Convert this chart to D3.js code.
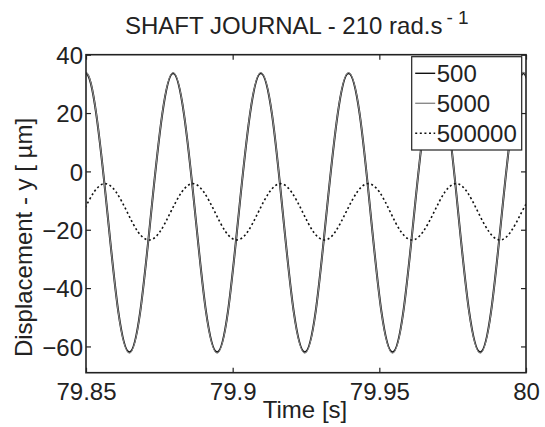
<!DOCTYPE html>
<html>
<head>
<meta charset="utf-8">
<script src="https://cdn.jsdelivr.net/npm/d3@7"></script>
<style>
  body { margin: 0; background: #fff; }
  text { font-family: "Liberation Sans", Arial, sans-serif; fill: #222; }
</style>
</head>
<body>
<script>
// sample times (s), every 1/8 of a period
const timeSolid = [79.8461, 79.8498, 79.8535, 79.8573, 79.8610, 79.8648, 79.8685, 79.8722, 79.8760,
  79.8797, 79.8834, 79.8872, 79.8909, 79.8947, 79.8984, 79.9021, 79.9059,
  79.9096, 79.9134, 79.9171, 79.9208, 79.9246, 79.9283, 79.9320, 79.9358,
  79.9395, 79.9433, 79.9470, 79.9507, 79.9545, 79.9582, 79.9619, 79.9657,
  79.9694, 79.9732, 79.9769, 79.9806, 79.9844, 79.9881, 79.9918, 79.9956,
  79.9993, 80.0030];
const y500 = [19.6, 33.6, 19.6, -14.2, -48.0, -62.0, -48.0, -14.2, 19.6,
  33.6, 19.6, -14.2, -48.0, -62.0, -48.0, -14.2, 19.6,
  33.6, 19.6, -14.2, -48.0, -62.0, -48.0, -14.2, 19.6,
  33.6, 19.6, -14.2, -48.0, -62.0, -48.0, -14.2, 19.6,
  33.6, 19.6, -14.2, -48.0, -62.0, -48.0, -14.2, 19.6,
  33.6, 19.6];
const y5000 = [19.8, 33.9, 19.8, -14.2, -48.2, -62.3, -48.2, -14.2, 19.8,
  33.9, 19.8, -14.2, -48.2, -62.3, -48.2, -14.2, 19.8,
  33.9, 19.8, -14.2, -48.2, -62.3, -48.2, -14.2, 19.8,
  33.9, 19.8, -14.2, -48.2, -62.3, -48.2, -14.2, 19.8,
  33.9, 19.8, -14.2, -48.2, -62.3, -48.2, -14.2, 19.8,
  33.9, 19.8];

const timeDotted = [79.8453, 79.8490, 79.8528, 79.8565, 79.8602, 79.8640, 79.8677, 79.8715,
  79.8752, 79.8789, 79.8827, 79.8864, 79.8901, 79.8939, 79.8976, 79.9014,
  79.9051, 79.9088, 79.9126, 79.9163, 79.9200, 79.9238, 79.9275, 79.9313,
  79.9350, 79.9387, 79.9425, 79.9462, 79.9500, 79.9537, 79.9574, 79.9612,
  79.9649, 79.9687, 79.9724, 79.9762, 79.9799, 79.9836, 79.9874, 79.9911,
  79.9948, 79.9986, 80.0023];
const y500000 = [-20.7, -13.85, -7.0, -4.2, -7.0, -13.85, -20.7, -23.5,
  -20.7, -13.85, -7.0, -4.2, -7.0, -13.85, -20.7, -23.5,
  -20.7, -13.85, -7.0, -4.2, -7.0, -13.85, -20.7, -23.5,
  -20.7, -13.85, -7.0, -4.2, -7.0, -13.85, -20.7, -23.5,
  -20.7, -13.85, -7.0, -4.2, -7.0, -13.85, -20.7, -23.5,
  -20.7, -13.85, -7.0];

const xTicks = [79.85, 79.9, 79.95, 80];
const yTicks = [-60, -40, -20, 0, 20, 40];
const legendLabels = ["500", "5000", "500000"];

const svgWidth = 545;
const svgHeight = 427;
const margin = { left: 86, top: 54.7, right: 19, bottom: 54.3 };
const chartWidth = svgWidth - margin.left - margin.right;
const chartHeight = svgHeight - margin.top - margin.bottom;

const svg = d3.select("body").append("svg")
  .attr("width", svgWidth)
  .attr("height", svgHeight);

const chart = svg.append("g")
  .attr("transform", `translate(${margin.left},${margin.top})`);

const xScale = d3.scaleLinear().domain([79.85, 80]).range([0, chartWidth]);
const yScale = d3.scaleLinear().domain([-69, 40]).range([chartHeight, 0]);

chart.append("clipPath").attr("id", "clip")
  .append("rect").attr("width", chartWidth).attr("height", chartHeight);

const line = d3.line()
  .x(d => xScale(d[0]))
  .y(d => yScale(d[1]))
  .curve(d3.curveNatural);

const series = [
  { name: "500", t: timeSolid, v: y500, color: "#111", width: 2, dash: null },
  { name: "5000", t: timeSolid, v: y5000, color: "#8a8a8a", width: 1.2, dash: null },
  { name: "500000", t: timeDotted, v: y500000, color: "#111", width: 1.6, dash: "2,2.6" }
];

const plot = chart.append("g").attr("clip-path", "url(#clip)");
series.forEach(s => {
  plot.append("path")
    .datum(s.t.map((t, i) => [t, s.v[i]]))
    .attr("d", line)
    .attr("fill", "none")
    .attr("stroke", s.color)
    .attr("stroke-width", s.width)
    .attr("stroke-dasharray", s.dash);
});

// axes, MATLAB style: ticks inside on all four sides
const tickLen = 5;
const axisColor = "#222";
const xAxis = chart.append("g").attr("transform", `translate(0,${chartHeight})`)
  .call(d3.axisBottom(xScale).tickValues(xTicks).tickSize(-tickLen).tickPadding(10)
    .tickFormat(d => d3.format("")(+d.toFixed(2))));
const xAxisTop = chart.append("g")
  .call(d3.axisTop(xScale).tickValues(xTicks).tickSize(-tickLen).tickFormat(""));
const yAxis = chart.append("g")
  .call(d3.axisLeft(yScale).tickValues(yTicks).tickSize(-tickLen).tickPadding(3));
const yAxisRight = chart.append("g").attr("transform", `translate(${chartWidth},0)`)
  .call(d3.axisRight(yScale).tickValues(yTicks).tickSize(-tickLen).tickFormat(""));

[xAxis, xAxisTop, yAxis, yAxisRight].forEach(a => {
  a.select(".domain").remove();
  a.selectAll(".tick line").attr("stroke", axisColor).attr("stroke-width", 1.2);
  a.selectAll("text").attr("font-size", 24).attr("fill", "#222")
    .attr("font-family", "Liberation Sans, Arial, sans-serif");
});
yAxis.selectAll("text").attr("dy", "0.36em");
xAxis.selectAll("text").attr("dy", "0.72em");

chart.append("rect")
  .attr("width", chartWidth)
  .attr("height", chartHeight)
  .attr("fill", "none")
  .attr("stroke", axisColor)
  .attr("stroke-width", 1.6);

// legend
const legend = chart.append("g")
  .attr("transform", `translate(${411.7 - margin.left},${56.7 - margin.top})`);
legend.append("rect")
  .attr("width", 110)
  .attr("height", 93.3)
  .attr("fill", "#fff")
  .attr("stroke", axisColor)
  .attr("stroke-width", 1.2);
legendLabels.forEach((lab, i) => {
  const s = series[i];
  const cy = 16.6 + i * 30;
  legend.append("line")
    .attr("x1", 3.5).attr("x2", 23.5)
    .attr("y1", cy).attr("y2", cy)
    .attr("stroke", s.color)
    .attr("stroke-width", s.dash ? 1.6 : 1.4)
    .attr("stroke-dasharray", s.dash);
  legend.append("text")
    .attr("x", 25)
    .attr("y", cy + 8.4)
    .attr("font-size", 24)
    .text(lab);
});

// title and axis labels
const title = svg.append("text")
  .attr("x", 125)
  .attr("y", 34)
  .attr("font-size", 24);
title.append("tspan").text("SHAFT JOURNAL - 210 rad.s");
title.append("tspan").attr("font-size", 19).attr("dx", 4).attr("dy", -10).text("- 1");

svg.append("text")
  .attr("x", 305)
  .attr("y", 418)
  .attr("text-anchor", "middle")
  .attr("font-size", 24)
  .text("Time [s]");

svg.append("text")
  .attr("transform", `translate(32,237.5) rotate(-90)`)
  .attr("text-anchor", "middle")
  .attr("font-size", 24)
  .text("Displacement - y [ µm]");
</script>
</body>
</html>
